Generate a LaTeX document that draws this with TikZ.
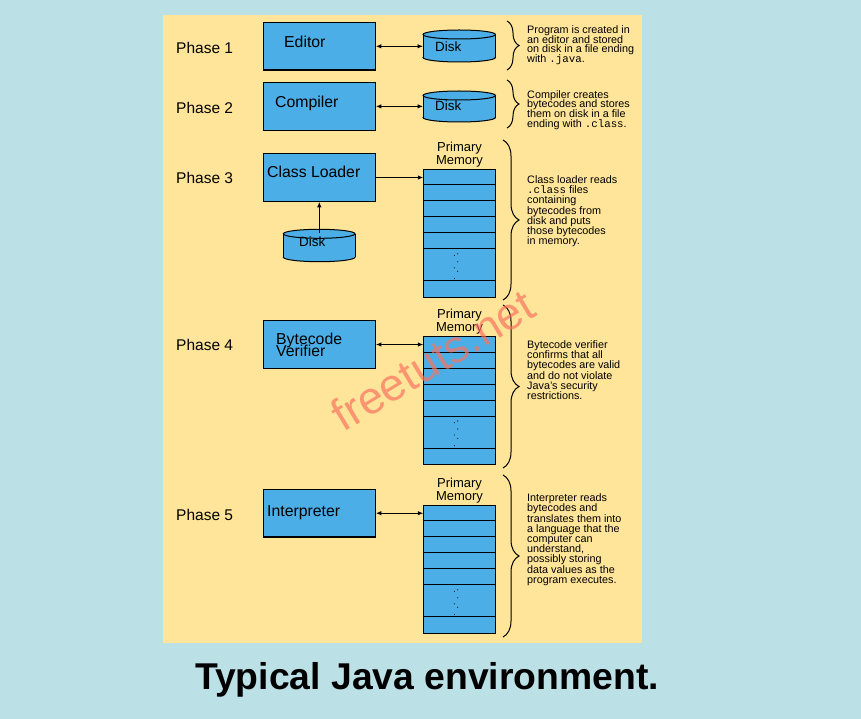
\documentclass[tikz,border=0pt]{standalone}
\usepackage{fontspec}
\setmainfont{Liberation Sans}
\setmonofont{Liberation Mono}
\usetikzlibrary{decorations.pathreplacing,arrows.meta,calc}
\definecolor{bgblue}{RGB}{187,224,230}
\definecolor{panel}{RGB}{255,229,153}
\definecolor{boxblue}{RGB}{75,174,230}
\definecolor{wm}{RGB}{250,115,95}
\newcommand\cyl[4]{%
  \pgfmathsetmacro\cyX{(#1+#2)/2}\pgfmathsetmacro\cyR{(#2-#1)/2}%
  \pgfmathsetmacro\cyA{#3+4.5}\pgfmathsetmacro\cyB{#4-4.5}%
  \draw[cylline,fill=boxblue] (\cyX,\cyB) ellipse [x radius=\cyR, y radius=4.5];
  \fill[boxblue] (#1,\cyA) rectangle (#2,\cyB);
  \draw[cylline] (#1,\cyA) -- (#1,\cyB) (#2,\cyA) -- (#2,\cyB);
  \draw[cylline,fill=boxblue] (\cyX,\cyA) ellipse [x radius=\cyR, y radius=4.5];}
\newcommand\memstack[2]{%
  \node[memcol] (#1) at (459.5,#2+64) {};
  \foreach \k in {16,32,48,64,80,112}
    \draw[line width=0.9pt] ($(#1.north west)+(0,\k)$) -- ($(#1.north east)+(0,\k)$);
  \foreach \dx/\dy in {-5.2/86.7,-1.8/85,-1.8/93,-5.2/99,-1.8/102.4,-5.2/109.7}
    \fill ($(#1.north)+(\dx,\dy)$) circle[radius=0.55];
  \node[memlabel] (#1a) at (459.5,#2-17.8) {Primary};
  \node[memlabel] (#1b) at (459.5,#2-5.2) {Memory};}
\begin{document}
\begin{tikzpicture}[x=1pt,y=-1pt,
  procbox/.style={draw=black,line width=1.2pt,fill=boxblue,minimum width=112,minimum height=47.6,inner sep=0},
  boxlabel/.style={font=\fontsize{15.8}{16}\selectfont,anchor=base west,inner sep=0},
  phase/.style={font=\fontsize{15.5}{16}\selectfont,anchor=base west,inner sep=0},
  disklabel/.style={font=\fontsize{13.4}{14}\selectfont,anchor=base west,inner sep=0},
  memlabel/.style={font=\fontsize{13}{13}\selectfont,anchor=base,inner sep=0},
  notetext/.style={font=\fontsize{10.8}{10}\selectfont,anchor=base west,inner sep=0},
  memcol/.style={draw=black,line width=1pt,fill=boxblue,minimum width=71.5,minimum height=128,inner sep=0},
  cylline/.style={draw=black,line width=1pt},
  conn/.style={line width=0.9pt},
  onearrow/.style={-{Latex[length=5.5pt,width=4.5pt]}},
  twoarrow/.style={{Latex[length=5.5pt,width=4.5pt]}-{Latex[length=5.5pt,width=4.5pt]}},
  curly/.style={decorate,decoration={brace,amplitude=#1},line width=1pt},
]
\useasboundingbox (0,0) rectangle (861,719);
\fill[bgblue] (0,0) rectangle (861,719);
\fill[panel] (163,15) rectangle (642,643);

% phase labels
\node[phase] (p1) at (176,54) {Phase 1};
\node[phase] (p2) at (176,113.3) {Phase 2};
\node[phase] (p3) at (176,184) {Phase 3};
\node[phase] (p4) at (176,350.6) {Phase 4};
\node[phase] (p5) at (176,520) {Phase 5};

% process boxes
\node[procbox] (editor) at (319.3,46.3) {};
\node[procbox] (compiler) at (319.3,106.4) {};
\node[procbox] (loader) at (319.3,177.5) {};
\node[procbox] (verifier) at (319.3,344.5) {};
\node[procbox] (interp) at (319.3,513.2) {};
\node[boxlabel] (editorl) at (284,48) {Editor};
\node[boxlabel] (compilerl) at (275,108) {Compiler};
\node[boxlabel] (loaderl) at (267,178) {Class Loader};
\node[boxlabel] (verifierl1) at (276,344) {Bytecode};
\node[boxlabel] (verifierl2) at (276,356.7) {Verifier};
\node[boxlabel] (interpl) at (267,516.4) {Interpreter};

% disks
\cyl{423}{495.5}{30}{62}
\cyl{423}{495.5}{91}{122}
\cyl{283.3}{355}{229.3}{261.7}
\node[disklabel] (disk1) at (435,51.5) {Disk};
\node[disklabel] (disk2) at (435,110.8) {Disk};
\node[disklabel] (disk3) at (299,246.5) {Disk};
\coordinate (disk1w) at (423,46.3);
\coordinate (disk2w) at (423,106.4);
\coordinate (disk3n) at (319.3,233);

% memory stacks
\memstack{mem1}{169.3}
\memstack{mem2}{336.5}
\memstack{mem3}{505.3}

% connectors
\draw[conn,twoarrow] (editor.east) -- (disk1w);
\draw[conn,twoarrow] (compiler.east) -- (disk2w);
\draw[conn,onearrow] (loader.east) -- (loader.east -| mem1.west);
\draw[conn,onearrow] (disk3n) -- (loader.south);
\draw[conn,twoarrow] (verifier.east) -- (verifier.east -| mem2.west);
\draw[conn,twoarrow] (interp.east) -- (interp.east -| mem3.west);

% braces
\draw[curly=12] (507,21) -- (507,70);
\draw[curly=12] (507,80) -- (507,128);
\draw[curly=16] (503,140) -- (503,300);
\draw[curly=16] (503,305) -- (503,468);
\draw[curly=16] (503,475) -- (503,637);

% notes
\foreach \t [count=\i from 0] in {Program is created in,an editor and stored,on disk in a file ending,with {\ttfamily .java}.}
  \node[notetext] (na\i) at (527,33.3+\i*9.8) {\t};
\foreach \t [count=\i from 0] in {Compiler creates,bytecodes and stores,them on disk in a file,ending with {\ttfamily .class}.}
  \node[notetext] (nb\i) at (527,98.3+\i*9.7) {\t};
\foreach \t [count=\i from 0] in {Class loader reads,{\ttfamily .class} files,containing,bytecodes from,disk and puts,those bytecodes,in memory.}
  \node[notetext] (nc\i) at (527,183.3+\i*10.28) {\t};
\foreach \t [count=\i from 0] in {Bytecode verifier,confirms that all,bytecodes are valid,and do not violate,Java’s security,restrictions.}
  \node[notetext] (nd\i) at (527,348.3+\i*10.33) {\t};
\foreach \t [count=\i from 0] in {Interpreter reads,bytecodes and,translates them into,a language that the,computer can,{understand,},possibly storing,data values as the,program executes.}
  \node[notetext] (ne\i) at (527,501.7+\i*10.2) {\t};

% title
\node[font=\bfseries\fontsize{37.3}{40}\selectfont,anchor=base,inner sep=0] (title) at (427,689.3) {Typical Java environment.};

% watermark
\node[font=\fontsize{45.5}{46}\selectfont,text=wm,opacity=0.7,rotate=31,inner sep=0] (wmark) at (432.5,360) {freetuts.net};
\end{tikzpicture}
\end{document}
